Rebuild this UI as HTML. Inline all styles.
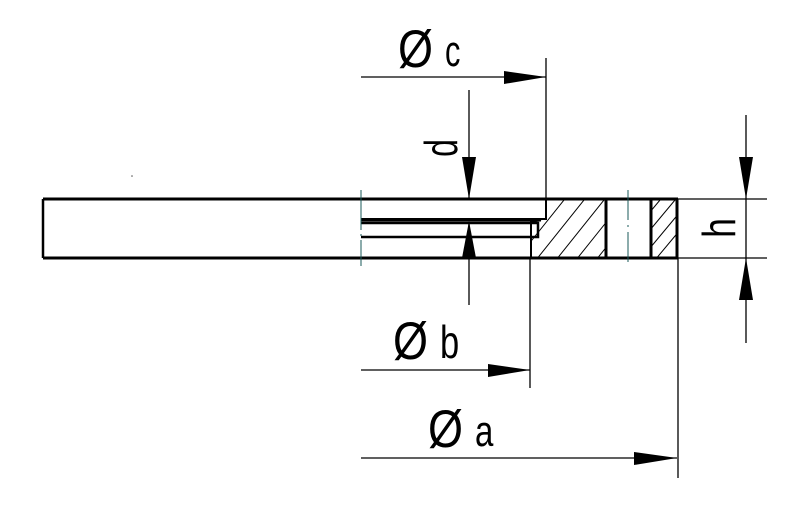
<!DOCTYPE html>
<html><head><style>
html,body{margin:0;padding:0;background:#fff}
svg{display:block}
text{font-family:"Liberation Sans","DejaVu Sans",sans-serif;fill:#000}
</style></head><body>
<svg width="787" height="509" viewBox="0 0 787 509" xmlns="http://www.w3.org/2000/svg">
<defs>
<clipPath id="h1"><polygon points="546,200 605,200 605,257 531,257 531,222 541,220 546,217"/></clipPath>
<clipPath id="h2"><rect x="651" y="200" width="25" height="57"/></clipPath>
</defs>
<g stroke="#000" fill="none">
<line x1="43" y1="199" x2="678" y2="199" stroke-width="3"/>
<line x1="43" y1="258" x2="678" y2="258" stroke-width="3"/>
<line x1="43" y1="199" x2="43" y2="258" stroke-width="2.5"/>
<line x1="677" y1="199" x2="677" y2="258" stroke-width="3"/>
<line x1="606" y1="199" x2="606" y2="258" stroke-width="3"/>
<line x1="651" y1="199" x2="651" y2="258" stroke-width="3"/>
<polyline points="361,219 546,219 546,199" stroke-width="2"/>
<line x1="361" y1="220" x2="541" y2="220" stroke-width="3"/>
<polyline points="361,223 538,223 538,237 361,237" stroke-width="2.5"/>
<polyline points="541,220 531,222 531,258" stroke-width="2"/>
<g clip-path="url(#h1)" stroke-width="1">
<line x1="520" y1="280" x2="600" y2="180"/><line x1="540" y1="280" x2="620" y2="180"/>
<line x1="560" y1="280" x2="640" y2="180"/><line x1="580" y1="280" x2="660" y2="180"/>
<line x1="600" y1="280" x2="680" y2="180"/><line x1="500" y1="280" x2="580" y2="180"/>
</g>
<g clip-path="url(#h2)" stroke-width="1">
<line x1="640" y1="260" x2="690" y2="200"/><line x1="625" y1="260" x2="675" y2="200"/>
<line x1="655" y1="260" x2="705" y2="200"/><line x1="610" y1="260" x2="660" y2="200"/>
</g>
<line x1="361" y1="190" x2="361" y2="266" stroke="#1a5a5a" stroke-width="1" stroke-dasharray="40,4,2,4"/>
<line x1="628" y1="190" x2="628" y2="266" stroke="#1a5a5a" stroke-width="1" stroke-dasharray="30,5,2,5"/>
<line x1="361" y1="77" x2="546" y2="77" stroke-width="1.3"/>
<line x1="546" y1="58" x2="546" y2="199" stroke-width="1.3"/>
<line x1="469" y1="90" x2="469" y2="199" stroke-width="1.3"/>
<line x1="469" y1="222" x2="469" y2="305" stroke-width="1.3"/>
<line x1="361" y1="370" x2="530" y2="370" stroke-width="1.3"/>
<line x1="530" y1="258" x2="530" y2="388" stroke-width="1.3"/>
<line x1="361" y1="458" x2="677" y2="458" stroke-width="1.3"/>
<line x1="678" y1="258" x2="678" y2="478" stroke-width="1.3"/>
<line x1="678" y1="199" x2="767" y2="199" stroke-width="1.3"/>
<line x1="678" y1="258" x2="767" y2="258" stroke-width="1.3"/>
<line x1="746" y1="115" x2="746" y2="343" stroke-width="1.3"/>
</g>
<g fill="#000">
<polygon points="546,77 504,71 504,84"/>
<polygon points="530,370 488,364 488,377"/>
<polygon points="677,458 634,452 634,465"/>
<polygon points="469,199 462,157 476,157"/>
<polygon points="469,221 462,258 476,258"/>
<polygon points="746,199 739,157 753,157"/>
<polygon points="746,258 739,300 753,300"/>
</g>
<text transform="translate(398,67) scale(0.9,1.05)" font-size="50">Ø</text>
<text transform="translate(445,66) scale(0.7,1)" font-size="44">c</text>
<text transform="translate(393,359) scale(0.9,1.05)" font-size="50">Ø</text>
<text transform="translate(440,358) scale(0.75,1)" font-size="46">b</text>
<text transform="translate(428,447) scale(0.9,1.05)" font-size="50">Ø</text>
<text transform="translate(475,446) scale(0.75,1)" font-size="44">a</text>
<text transform="translate(457,148) rotate(-90) scale(0.8,1.15)" font-size="40" text-anchor="middle">d</text>
<text transform="translate(735,228) rotate(-90) scale(0.85,1.1)" font-size="42" text-anchor="middle">h</text>
<circle cx="132" cy="176" r="0.8" fill="#555"/>
</svg>
</body></html>
